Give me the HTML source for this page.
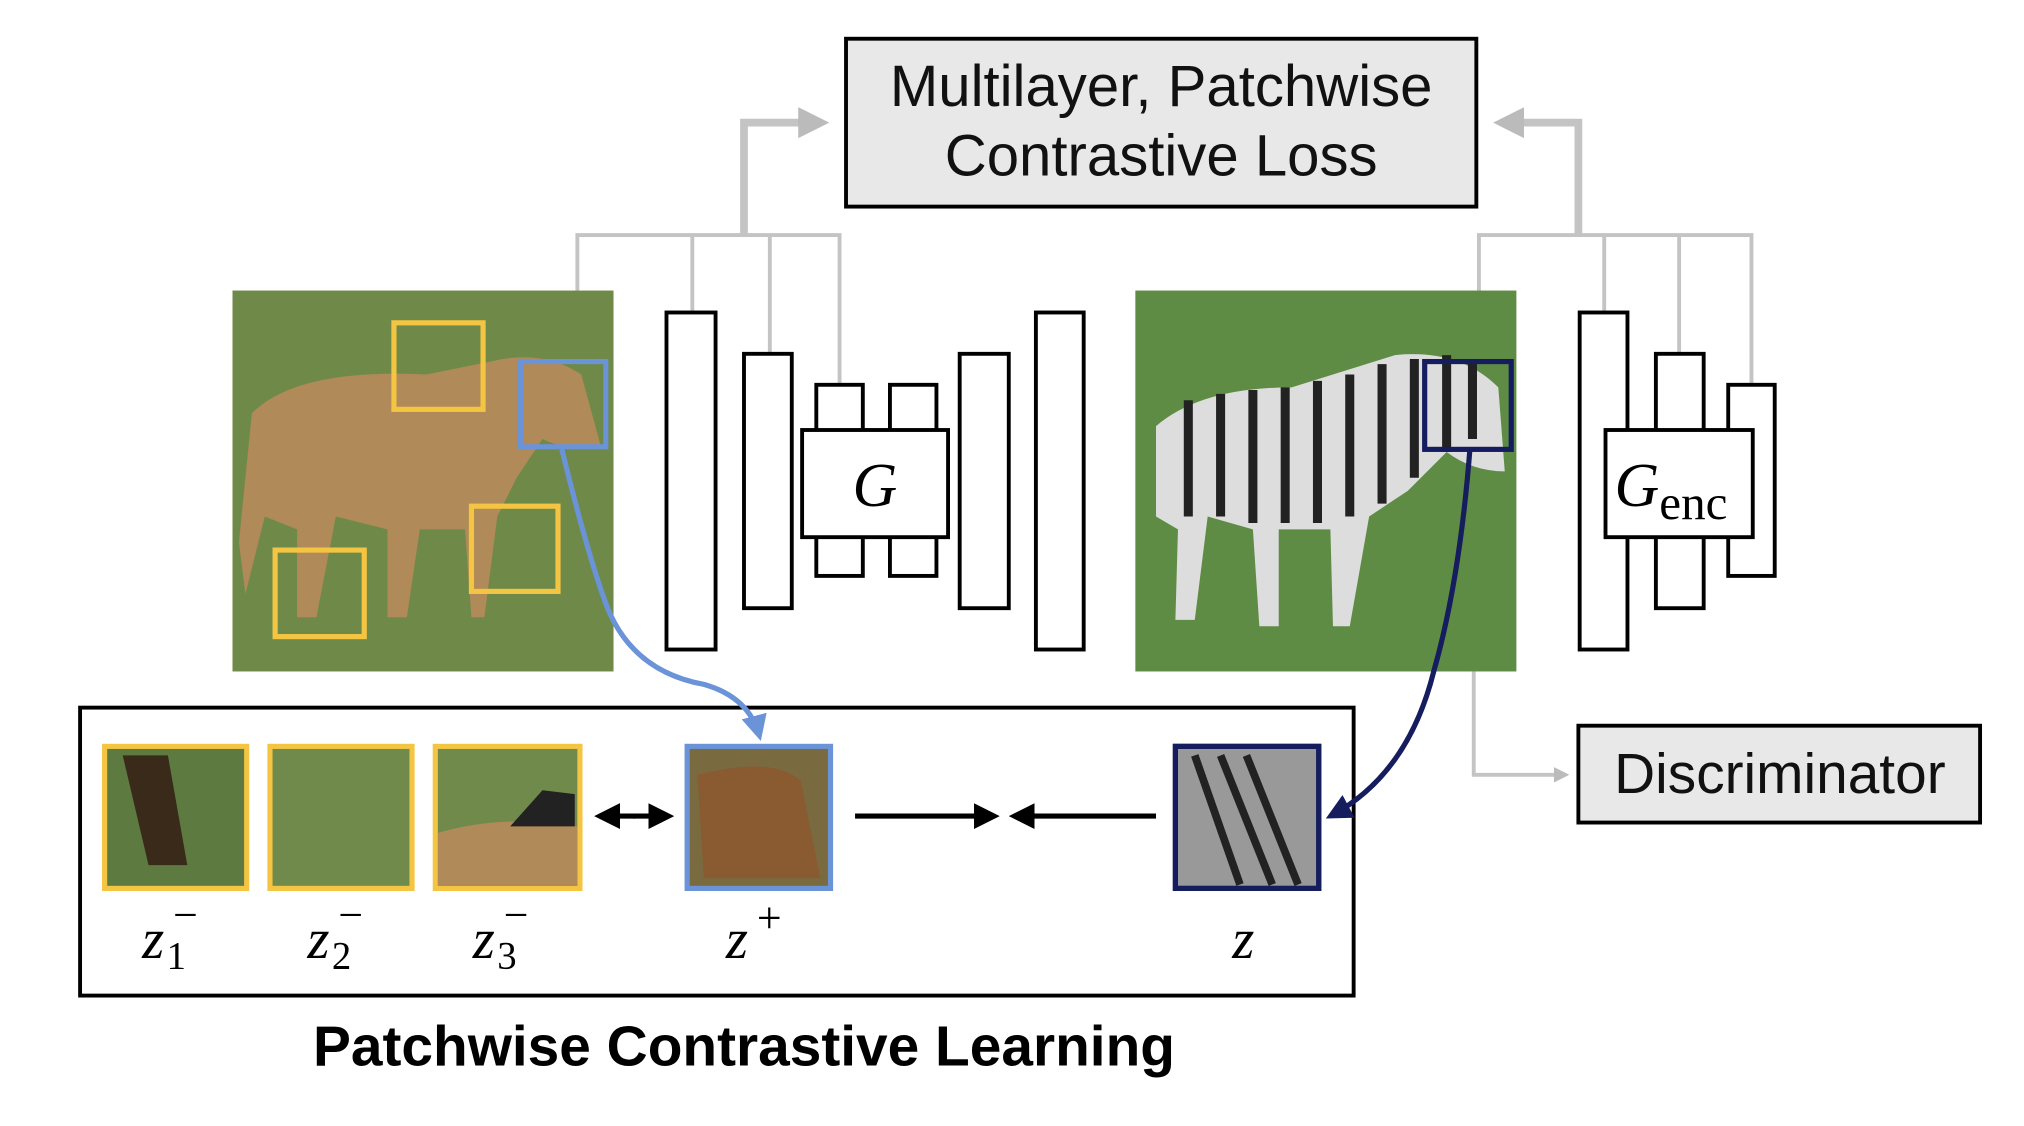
<!DOCTYPE html>
<html><head><style>html,body{margin:0;padding:0;background:#fff}svg{display:block}</style></head>
<body>
<svg width="2024" height="1126" viewBox="0 0 1567 872" preserveAspectRatio="none" xmlns="http://www.w3.org/2000/svg">
<defs>
<marker id="ag" markerWidth="4" markerHeight="4" refX="3" refY="2" orient="auto"><path d="M0,0L4,2L0,4z" fill="#bbb"/></marker>
<marker id="ab" markerWidth="5" markerHeight="5" refX="4" refY="2.5" orient="auto"><path d="M0,0L5,2.5L0,5z" fill="#000"/></marker>
<marker id="abl" markerWidth="5" markerHeight="5" refX="4" refY="2.5" orient="auto"><path d="M0,0L5,2.5L0,5z" fill="#6a93d8"/></marker>
<marker id="adk" markerWidth="5" markerHeight="5" refX="4" refY="2.5" orient="auto"><path d="M0,0L5,2.5L0,5z" fill="#151d5e"/></marker>
</defs>
<g stroke="#c4c4c4" stroke-width="3" fill="none">
<path d="M447 225V182H650V298M536 182V242M596 182V274"/>
<path d="M1145 225V182H1356V298M1242 182V242M1300 182V274"/>
<path d="M1141 520V600H1212" marker-end="url(#ag)"/>
</g>
<g stroke="#c4c4c4" stroke-width="6" fill="none">
<path d="M576 182V95H636" marker-end="url(#ag)"/>
<path d="M1222 182V95H1162" marker-end="url(#ag)"/>
</g>
<rect x="655" y="30" width="488" height="130" fill="#e8e8e8" stroke="#000" stroke-width="3"/>
<g font-family="Liberation Sans, sans-serif" font-size="45" text-anchor="middle" fill="#111">
<text x="899" y="82">Multilayer, Patchwise</text>
<text x="899" y="136">Contrastive Loss</text>
</g>
<rect x="180" y="225" width="295" height="295" fill="#6f8a48"/>
<path d="M195 320 Q230 285 330 290 L380 280 Q420 270 450 290 L465 345 Q440 350 420 340 L400 370 L385 400 L375 478 L365 478 L360 410 L325 410 L315 478 L300 478 L300 410 L260 400 L245 478 L230 478 L230 410 L205 400 L190 460 L185 420 Z" fill="#b08a58"/>
<rect x="879" y="225" width="295" height="295" fill="#5f8c45"/>
<path d="M895 330 Q930 300 1000 300 L1080 275 Q1130 270 1160 300 L1165 365 Q1140 365 1120 350 L1090 380 L1060 400 L1045 485 L1032 485 L1030 410 L990 410 L990 485 L975 485 L970 410 L935 400 L925 480 L910 480 L912 410 L895 400 Z" fill="#ddd"/>
<g stroke="#222" stroke-width="7">
<path d="M920 310V400M945 305V400M970 302V405M995 300V405M1020 295V405M1045 290V400M1070 282V390M1095 278V370M1120 275V350M1140 280V340"/>
</g>
<g fill="none" stroke-width="4">
<rect x="305" y="250" width="69" height="67" stroke="#f4c542"/>
<rect x="213" y="426" width="69" height="67" stroke="#f4c542"/>
<rect x="365" y="392" width="67" height="66" stroke="#f4c542"/>
<rect x="403" y="280" width="66" height="66" stroke="#6a93d8"/>
<rect x="1103" y="280" width="67" height="68" stroke="#151d5e"/>
</g>
<g fill="#fff" stroke="#000" stroke-width="3">
<rect x="516" y="242" width="38" height="261"/>
<rect x="576" y="274" width="37" height="197"/>
<rect x="632" y="298" width="36" height="148"/>
<rect x="689" y="298" width="36" height="148"/>
<rect x="621" y="333" width="113" height="83"/>
<rect x="743" y="274" width="38" height="197"/>
<rect x="802" y="242" width="37" height="261"/>
<rect x="1223" y="242" width="37" height="261"/>
<rect x="1282" y="274" width="37" height="197"/>
<rect x="1338" y="298" width="36" height="148"/>
<rect x="1243" y="333" width="114" height="83"/>
</g>
<g font-family="Liberation Serif, serif" font-style="italic" font-size="48" fill="#000">
<text x="660" y="392">G</text>
<text x="1250" y="392">G<tspan font-style="normal" font-size="38" dy="10">enc</tspan></text>
</g>
<rect x="1222" y="562" width="311" height="75" fill="#e8e8e8" stroke="#000" stroke-width="3"/>
<text x="1378" y="614" font-family="Liberation Sans, sans-serif" font-size="44" text-anchor="middle" fill="#111">Discriminator</text>
<rect x="62" y="548" width="986" height="223" fill="none" stroke="#000" stroke-width="3"/>
<rect x="81" y="578" width="110" height="110" fill="#5d7a40" stroke="#f4c542" stroke-width="4"/>
<path d="M95 585 L130 585 L145 670 L115 670 Z" fill="#3a2a1a"/>
<rect x="209" y="578" width="110" height="110" fill="#6f8a4a" stroke="#f4c542" stroke-width="4"/>
<rect x="337" y="578" width="112" height="110" fill="#6f8a4a" stroke="#f4c542" stroke-width="4"/>
<path d="M339 645 Q390 630 447 640 V686 H339 Z" fill="#b08a58"/>
<path d="M395 640 L420 612 L445 615 L445 640 Z" fill="#222"/>
<rect x="532" y="578" width="111" height="110" fill="#7a6a40" stroke="#6a93d8" stroke-width="4"/>
<path d="M540 600 Q600 585 620 605 L635 680 L545 680 Z" fill="#8a5a30"/>
<rect x="910" y="578" width="111" height="110" fill="#999" stroke="#151d5e" stroke-width="4"/>
<g stroke="#222" stroke-width="6"><path d="M925 585L960 685M945 585L985 685M965 585L1005 685"/></g>
<rect x="910" y="578" width="111" height="110" fill="none" stroke="#151d5e" stroke-width="4"/>
<g stroke="#000" stroke-width="4" fill="none">
<path d="M490 632H518" marker-end="url(#ab)"/><path d="M492 632H464" marker-end="url(#ab)"/>
<path d="M662 632H770" marker-end="url(#ab)"/>
<path d="M895 632H785" marker-end="url(#ab)"/>
</g>
<path d="M435 348 Q455 430 470 470 Q490 520 545 530 Q580 540 588 570" fill="none" stroke="#6a93d8" stroke-width="4" marker-end="url(#abl)"/>
<path d="M1138 348 Q1130 450 1110 520 Q1090 600 1030 632" fill="none" stroke="#151d5e" stroke-width="4" marker-end="url(#adk)"/>
<g font-family="Liberation Serif, serif" font-size="44" fill="#000">
<text x="110" y="742" font-style="italic">z</text><text x="129" y="750" font-size="30">1</text><text x="134" y="720" font-size="34">−</text>
<text x="238" y="742" font-style="italic">z</text><text x="257" y="750" font-size="30">2</text><text x="262" y="720" font-size="34">−</text>
<text x="366" y="742" font-style="italic">z</text><text x="385" y="750" font-size="30">3</text><text x="390" y="720" font-size="34">−</text>
<text x="562" y="742" font-style="italic">z</text><text x="586" y="722" font-size="34">+</text>
<text x="954" y="742" font-style="italic">z</text>
</g>
<text x="576" y="825" font-family="Liberation Sans, sans-serif" font-weight="bold" font-size="44" text-anchor="middle" fill="#000">Patchwise Contrastive Learning</text>
</svg>
</body></html>
